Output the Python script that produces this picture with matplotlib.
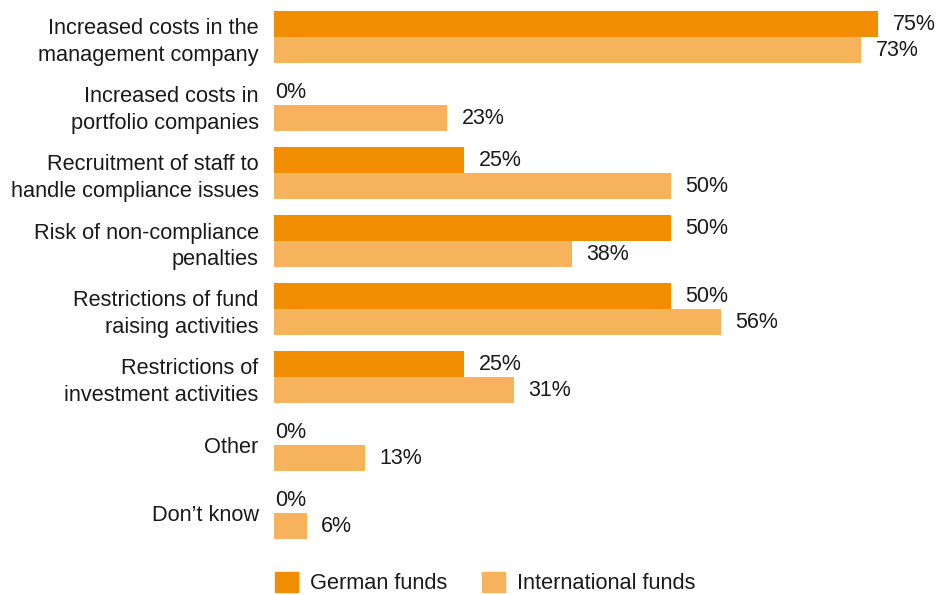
import matplotlib.pyplot as plt
from matplotlib.patches import Patch
import numpy as np

plt.rcParams['font.family'] = ['Liberation Sans', 'DejaVu Sans']

# Datos del gráfico
categories = [
    "Increased costs in the\nmanagement company",
    "Increased costs in\nportfolio companies",
    "Recruitment of staff to\nhandle compliance issues",
    "Risk of non-compliance\npenalties",
    "Restrictions of fund\nraising activities",
    "Restrictions of\ninvestment activities",
    "Other",
    "Don\u2019t know",
]
german = [75, 0, 25, 50, 50, 25, 0, 0]
international = [73, 23, 50, 38, 56, 31, 13, 6]
series_names = ["German funds", "International funds"]

c_german = "#F08D00"
c_intl = "#F7B25C"
txt = "#1a1a1a"

fig = plt.figure(figsize=(9.36, 5.95), dpi=100)
ax = fig.add_axes([274 / 936, 1 - 547 / 595, 1 - 274 / 936, 544 / 595])

y = np.arange(len(categories))
h = 26 / 68
ax.barh(y - h / 2, german, height=h, color=c_german, label=series_names[0])
ax.barh(y + h / 2, international, height=h, color=c_intl, label=series_names[1])

# el eje empieza un poco por encima de cero, como en el original
xmin, xmax = 2.05, 82.0
ax.set_xlim(xmin, xmax)
ax.set_ylim(len(categories) - 0.5, -0.5)

# Etiquetas de valores
for yy, vals in ((y - h / 2, german), (y + h / 2, international)):
    for yi, v in zip(yy, vals):
        if v > 0:
            ax.text(v + 1.75, yi, f"{v}%", va="center", ha="left",
                    fontsize=15.5, color=txt)
        else:
            ax.text(xmin + 0.1, yi, f"{v}%", va="center", ha="left",
                    fontsize=15.5, color=txt)

ax.set_yticks(y)
ax.set_yticklabels(categories, fontsize=15.7, color=txt, linespacing=1.33)
ax.tick_params(axis="y", length=0, pad=11)
ax.set_xticks([])
for s in ax.spines.values():
    s.set_visible(False)

handles = [Patch(color=c_german), Patch(color=c_intl)]
fig.legend(handles, series_names, loc="center left",
           bbox_to_anchor=(275 / 936, 1 - 583 / 595), ncol=2, frameon=False,
           fontsize=15.7, handlelength=1.05, handleheight=1.05,
           handletextpad=0.55, columnspacing=1.6, borderpad=0,
           borderaxespad=0, labelcolor=txt)

fig.savefig("out.png", dpi=100)
